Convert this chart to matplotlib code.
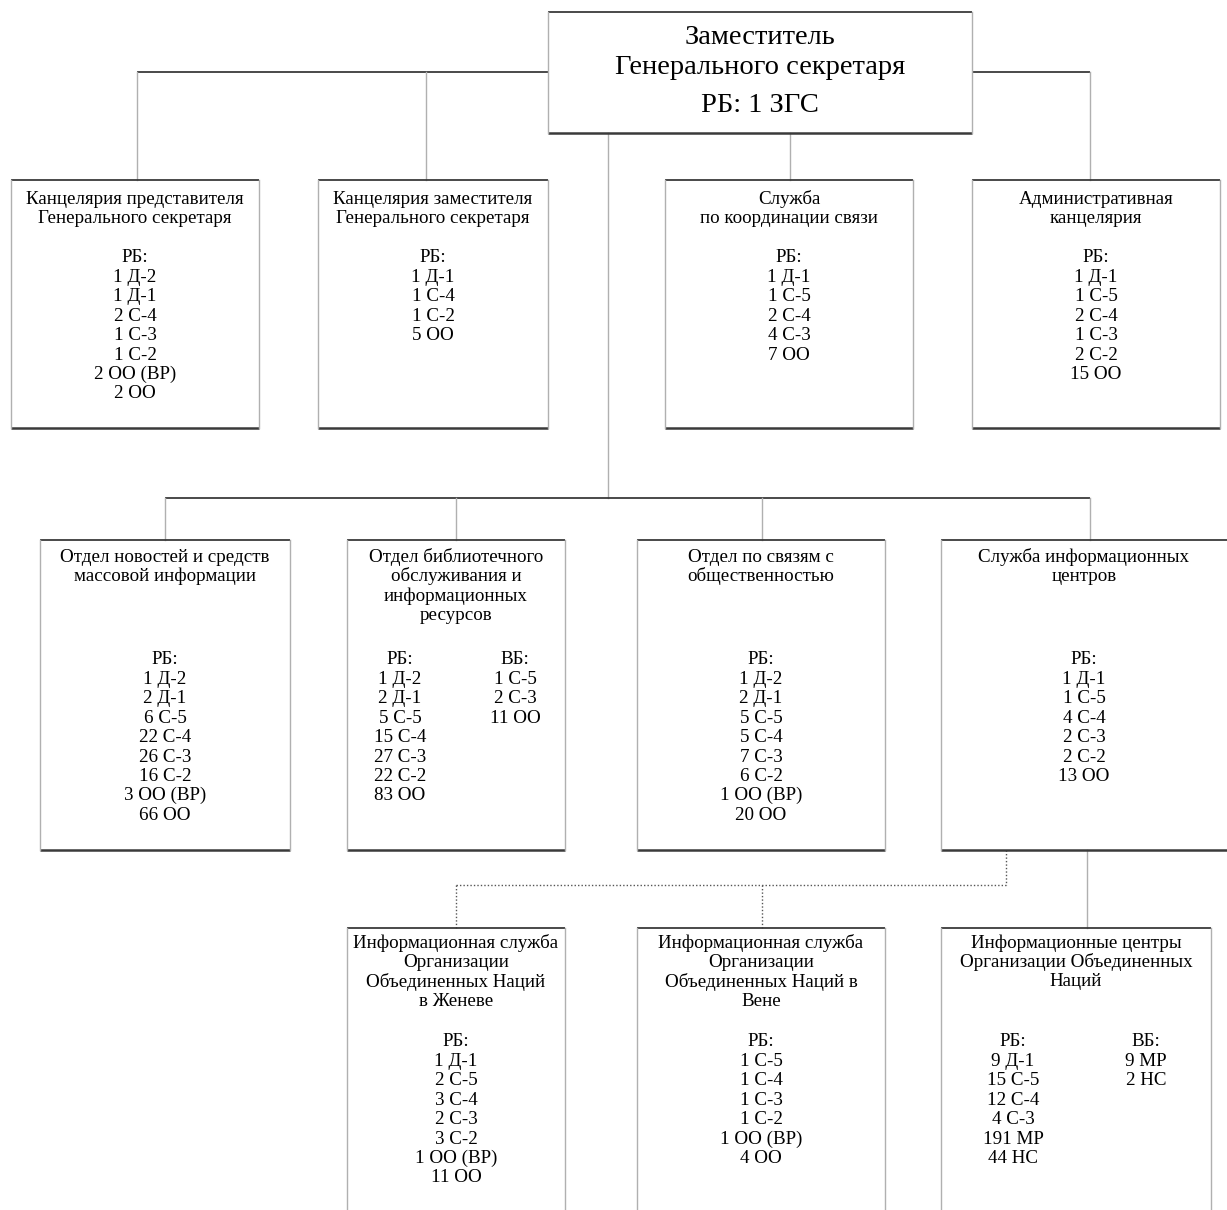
import matplotlib
matplotlib.use("Agg")
import matplotlib.pyplot as plt

W, H = 1227, 1210
FONT = ["Liberation Serif", "DejaVu Serif"]

# ---- content ----
top_title = ["Заместитель", "Генерального секретаря"]
top_staff = "РБ: 1 ЗГС"

row2_titles = [
    ["Канцелярия представителя", "Генерального секретаря"],
    ["Канцелярия заместителя", "Генерального секретаря"],
    ["Служба", "по координации связи"],
    ["Административная", "канцелярия"],
]
row2_rb = [
    ["1 Д-2", "1 Д-1", "2 С-4", "1 С-3", "1 С-2", "2 ОО (ВР)", "2 ОО"],
    ["1 Д-1", "1 С-4", "1 С-2", "5 ОО"],
    ["1 Д-1", "1 С-5", "2 С-4", "4 С-3", "7 ОО"],
    ["1 Д-1", "1 С-5", "2 С-4", "1 С-3", "2 С-2", "15 ОО"],
]

row3_titles = [
    ["Отдел новостей и средств", "массовой информации"],
    ["Отдел библиотечного", "обслуживания и", "информационных", "ресурсов"],
    ["Отдел по связям с", "общественностью"],
    ["Служба информационных", "центров"],
]
row3_rb = [
    ["1 Д-2", "2 Д-1", "6 С-5", "22 С-4", "26 С-3", "16 С-2", "3 ОО (ВР)", "66 ОО"],
    ["1 Д-2", "2 Д-1", "5 С-5", "15 С-4", "27 С-3", "22 С-2", "83 ОО"],
    ["1 Д-2", "2 Д-1", "5 С-5", "5 С-4", "7 С-3", "6 С-2", "1 ОО (ВР)", "20 ОО"],
    ["1 Д-1", "1 С-5", "4 С-4", "2 С-3", "2 С-2", "13 ОО"],
]
row3_vb = [None, ["1 С-5", "2 С-3", "11 ОО"], None, None]

row4_titles = [
    ["Информационная служба", "Организации", "Объединенных Наций", "в Женеве"],
    ["Информационная служба", "Организации", "Объединенных Наций в", "Вене"],
    ["Информационные центры", "Организации Объединенных", "Наций"],
]
row4_rb = [
    ["1 Д-1", "2 С-5", "3 С-4", "2 С-3", "3 С-2", "1 ОО (ВР)", "11 ОО"],
    ["1 С-5", "1 С-4", "1 С-3", "1 С-2", "1 ОО (ВР)", "4 ОО"],
    ["9 Д-1", "15 С-5", "12 С-4", "4 С-3", "191 МР", "44 НС"],
]
row4_vb = [None, None, ["9 МР", "2 НС"]]

# ---- drawing ----
fig = plt.figure(figsize=(W / 100, H / 100), dpi=100)
ax = fig.add_axes([0, 0, 1, 1])
ax.set_xlim(0, W)
ax.set_ylim(H, 0)
ax.axis("off")

DARK = "#3a3a3a"
LIGHT = "#b0b0b0"
FS = 13.7
STEP = 19.4
TXT = "#000000"


def box(x0, x1, y0, y1, bottom=True):
    ax.plot([x0, x1], [y0, y0], color=DARK, lw=1.3, solid_capstyle="butt")
    if bottom:
        ax.plot([x0, x1], [y1, y1], color=DARK, lw=1.8, solid_capstyle="butt")
    ax.plot([x0, x0], [y0, y1], color=LIGHT, lw=1.0)
    ax.plot([x1, x1], [y0, y1], color=LIGHT, lw=1.0)


def lines(xc, y0, items, fs=FS, step=STEP):
    for i, t in enumerate(items):
        ax.text(xc, y0 + i * step, t, ha="center", va="center",
                fontsize=fs, family=FONT, color=TXT)


def hline(x0, x1, y, dotted=False):
    if dotted:
        ax.plot([x0, x1], [y, y], color="#555555", lw=1.0, ls=(0, (1, 1.5)))
    else:
        ax.plot([x0, x1], [y, y], color=DARK, lw=1.3, solid_capstyle="butt")


def vline(x, y0, y1, dotted=False):
    if dotted:
        ax.plot([x, x], [y0, y1], color="#555555", lw=1.0, ls=(0, (1, 1.5)))
    else:
        ax.plot([x, x], [y0, y1], color=LIGHT, lw=1.0)


# connectors level 1 -> 2
hline(137, 548, 72)
hline(972, 1090, 72)
vline(137, 72, 180)
vline(426, 72, 180)
vline(1090, 72, 180)
vline(790, 133, 180)
# level 1 -> 3
vline(608, 133, 498)
hline(165, 1090, 498)
for x in (165, 456, 762, 1090):
    vline(x, 498, 540)
# level 3 -> 4
vline(1006, 850, 885, dotted=True)
hline(456, 1006, 885, dotted=True)
vline(456, 885, 928, dotted=True)
vline(762, 885, 928, dotted=True)
vline(1087, 850, 928)

# top box
box(548, 972, 12, 133)
lines(760, 38, top_title, fs=20.5, step=30)
ax.text(760, 106, top_staff, ha="center", va="center", fontsize=20.5,
        family=FONT, color=TXT)

# row 2
row2_x = [(11, 259), (318, 548), (665, 913), (972, 1220)]
for (x0, x1), title, rb in zip(row2_x, row2_titles, row2_rb):
    box(x0, x1, 180, 428)
    xc = (x0 + x1) / 2
    lines(xc, 199, title)
    lines(xc, 258, ["РБ:"] + rb)

# row 3
row3_x = [(40, 290), (347, 565), (637, 885), (941, 1232)]
for i, ((x0, x1), title, rb, vb) in enumerate(zip(row3_x, row3_titles, row3_rb, row3_vb)):
    box(x0, x1, 540, 850)
    xc = (x0 + x1) / 2 if i != 3 else 1084
    lines(xc, 557, title)
    if vb is None:
        lines(xc, 660, ["РБ:"] + rb)
    else:
        lines(400, 660, ["РБ:"] + rb)
        lines(515, 660, ["ВБ:"] + vb)

# row 4
row4_x = [(347, 565), (637, 885), (941, 1211)]
for (x0, x1), title, rb, vb in zip(row4_x, row4_titles, row4_rb, row4_vb):
    box(x0, x1, 928, 1260, bottom=False)
    xc = (x0 + x1) / 2
    lines(xc, 943, title)
    if vb is None:
        lines(xc, 1042, ["РБ:"] + rb)
    else:
        lines(1013, 1042, ["РБ:"] + rb)
        lines(1146, 1042, ["ВБ:"] + vb)

fig.savefig("out.png", dpi=100, facecolor="white")
